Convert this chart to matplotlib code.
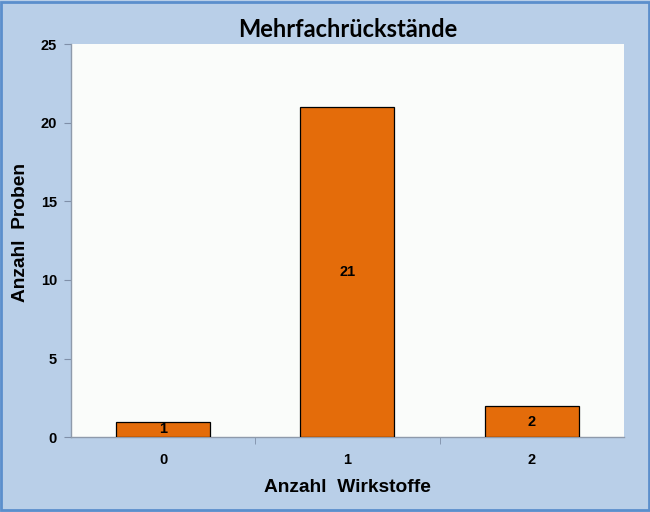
import matplotlib.pyplot as plt
from matplotlib.patches import Rectangle

categories = ["0", "1", "2"]
counts = [1, 21, 2]
yticks = [0, 5, 10, 15, 20, 25]

plt.rcParams['font.family'] = ['Liberation Sans', 'DejaVu Sans']
plt.rcParams['font.weight'] = 'bold'

fig = plt.figure(figsize=(6.5, 5.12), dpi=100)
fig.patch.set_facecolor('#b9cfe8')
fig.patches.append(Rectangle((0.002, 0.003), 0.996, 0.994, transform=fig.transFigure,
                             fill=False, edgecolor='#5b8fcc', linewidth=2))

ax = fig.add_axes([0.109, 0.146, 0.851, 0.768])
ax.set_facecolor('#fafcfa')

x = list(range(len(categories)))
bars = ax.bar(x, counts, width=0.51, color='#e46c0a', edgecolor='black', linewidth=0.9, zorder=3)
for xi, v in zip(x, counts):
    ax.text(xi, v / 2, str(v), ha='center', va='center', fontsize=10.5, fontweight='bold', zorder=4)

ax.set_xlim(-0.5, 2.5)
ax.set_ylim(0, 25)
ax.set_yticks(yticks)
ax.set_xticks(x)
ax.set_xticklabels(categories)
ax.set_xticks([0.5, 1.5], minor=True)
ax.tick_params(axis='x', which='major', length=0, pad=11, labelsize=10.5)
ax.tick_params(axis='x', which='minor', length=5, direction='out', color='#7f8fa8')
ax.tick_params(axis='y', length=5, direction='out', color='#7f8fa8', labelsize=10.5, pad=5)

for s in ['top', 'right']:
    ax.spines[s].set_visible(False)
for s in ['left', 'bottom']:
    ax.spines[s].set_color('#8e9aab')
    ax.spines[s].set_linewidth(1)

ax.set_title('Mehrfachrückstände', fontsize=17, fontweight='bold', pad=5,
             family=['Lato', 'DejaVu Sans'])
ax.set_xlabel('Anzahl  Wirkstoffe', fontsize=13.8, fontweight='bold', labelpad=9)
ax.set_ylabel('Anzahl  Proben', fontsize=13.8, fontweight='bold')
ax.yaxis.set_label_coords(-0.075, 0.52)

fig.savefig('out.png', dpi=100, facecolor=fig.get_facecolor())
